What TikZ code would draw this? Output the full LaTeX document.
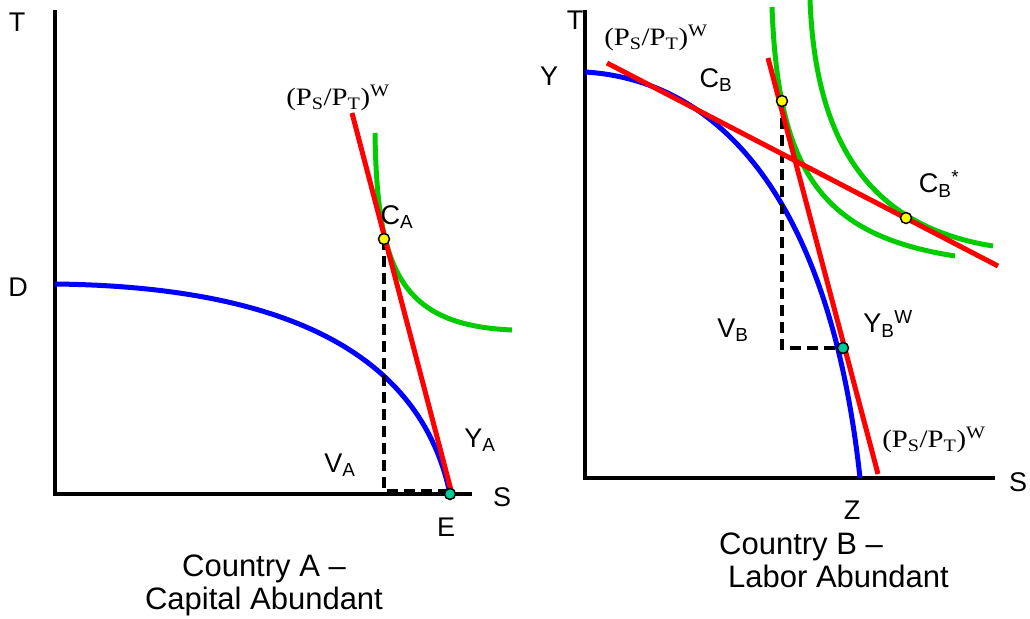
\documentclass[tikz,border=0pt]{standalone}
\usepackage{fontspec}
\setmainfont{Liberation Sans}
\newfontfamily\timesfont{Liberation Serif}
\usepackage{xcolor}
\usepackage{tikz}
\usetikzlibrary{arrows.meta,calc,positioning}

\definecolor{ppfblue}{RGB}{0,0,255}
\definecolor{priceRed}{RGB}{255,0,0}
\definecolor{icGreen}{RGB}{0,204,0}
\definecolor{dotYellow}{RGB}{255,255,0}
\definecolor{dotTeal}{RGB}{0,204,153}

\newcommand{\pratio}{{\timesfont (P\textsubscript{S}/P\textsubscript{T})\textsuperscript{W}}}

\tikzset{
  axis/.style={line width=3.5pt,black},
  ppf/.style={line width=5pt,ppfblue},
  price/.style={line width=5pt,priceRed},
  indiff/.style={line width=5pt,icGreen},
  guide/.style={line width=3.5pt,black,dash pattern=on 11pt off 6pt},
  cdot/.style={circle,draw=black,line width=1.5pt,fill=dotYellow,inner sep=0pt,minimum size=11pt},
  ydot/.style={circle,draw=black,line width=1.5pt,fill=dotTeal,inner sep=0pt,minimum size=11pt},
  lbl/.style={font=\fontsize{27}{31}\selectfont,inner sep=0pt},
  plbl/.style={font=\fontsize{25}{29}\selectfont,inner sep=0pt,xscale=1.15},
  captext/.style={font=\fontsize{31}{33}\selectfont,inner sep=0pt}
}

\begin{document}
\begin{tikzpicture}[x=1pt,y=-1pt]
  \useasboundingbox (0,0) rectangle (1030,618);

  % Country A
  \draw[axis] (55,10) -- (55,494) -- (472,494);
  \draw[ppf] (55,284) .. controls (320,287) and (425,375) .. (450,494);
  \draw[indiff] (375,133) .. controls (377,270) and (400,325) .. (512,330);
  \draw[guide] (384,239) -- (384,491) -- (450,491);
  \draw[price] (352,113) -- (452,494);
  \node[cdot] (CA) at (384,239) {};
  \node[ydot] (YA) at (450,494) {};
  \node[lbl] (TA) at (17,22) {T};
  \node[lbl] (D) at (18,287) {D};
  \node[lbl] (SA) at (502,497) {S};
  \node[lbl] (E) at (446,527) {E};
  \node[lbl] at (397,217) {C\textsubscript{A}};
  \node[lbl] at (480,440) {Y\textsubscript{A}};
  \node[lbl] at (340,465) {V\textsubscript{A}};
  \node[plbl] at (338,98) {\pratio};
  \node[captext,align=center] at (264,585) {Country A --\\Capital Abundant};

  % Country B
  \draw[axis] (585,10) -- (585,478) -- (995,478);
  \draw[ppf] (585,72) .. controls (720,80) and (830,200) .. (860,478);
  \draw[indiff] (772,7) .. controls (778,170) and (820,235) .. (955,256);
  \draw[indiff] (810,0) .. controls (815,130) and (860,225) .. (993,246);
  \draw[guide] (782,101) -- (782,348) -- (843,348);
  \draw[price] (607,63) -- (998,266);
  \draw[price] (768,58) -- (878,474);
  \node[cdot] (CB) at (782,101) {};
  \node[cdot] (CBs) at (906,218) {};
  \node[ydot] (YB) at (843,348) {};
  \node[lbl] (TB) at (575,20) {T};
  \node[lbl] (Y) at (549,76) {Y};
  \node[lbl] (SB) at (1018,482) {S};
  \node[lbl] (Z) at (852,510) {Z};
  \node[lbl] at (716,80) {C\textsubscript{B}};
  \node[lbl] at (939,184) {C\textsubscript{B}\textsuperscript{*}};
  \node[lbl] at (733,330) {V\textsubscript{B}};
  \node[lbl] at (888,324) {Y\textsubscript{B}\textsuperscript{W}};
  \node[plbl] at (656,38) {\pratio};
  \node[plbl] at (934,440) {\pratio};
  \node[captext,align=left,anchor=north west] at (719,533) {Country B --\\\hspace{9pt}Labor Abundant};
\end{tikzpicture}
\end{document}
